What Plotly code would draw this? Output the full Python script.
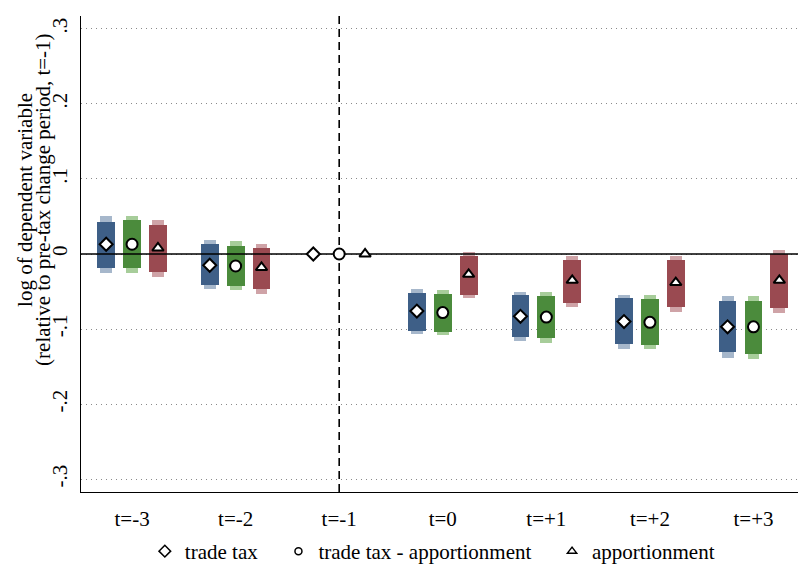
import plotly.graph_objects as go

periods = ["t=-3", "t=-2", "t=-1", "t=0", "t=+1", "t=+2", "t=+3"]
series_names = ["trade tax", "trade tax - apportionment", "apportionment"]
ytitle_lines = ["log of dependent variable", "(relative to pre-tax change period, t=-1)"]

# point estimates
trade_tax = [0.013, -0.015, 0.0, -0.076, -0.083, -0.090, -0.097]
trade_tax_appo = [0.013, -0.016, 0.0, -0.078, -0.084, -0.091, -0.097]
apportionment = [0.008, -0.018, 0.0, -0.027, -0.035, -0.038, -0.035]

# inner (dark) intervals
trade_tax_lo_in = [-0.018, -0.041, None, -0.102, -0.111, -0.120, -0.131]
trade_tax_hi_in = [0.043, 0.013, None, -0.052, -0.055, -0.059, -0.062]
trade_tax_appo_lo_in = [-0.019, -0.043, None, -0.104, -0.112, -0.121, -0.133]
trade_tax_appo_hi_in = [0.045, 0.011, None, -0.053, -0.056, -0.060, -0.062]
apportionment_lo_in = [-0.024, -0.047, None, -0.054, -0.065, -0.070, -0.072]
apportionment_hi_in = [0.039, 0.008, None, -0.003, -0.008, -0.008, 0.000]

# outer (light) intervals
trade_tax_lo_out = [-0.025, -0.047, None, -0.107, -0.116, -0.126, -0.138]
trade_tax_hi_out = [0.050, 0.018, None, -0.046, -0.050, -0.054, -0.056]
trade_tax_appo_lo_out = [-0.025, -0.048, None, -0.108, -0.118, -0.127, -0.140]
trade_tax_appo_hi_out = [0.050, 0.017, None, -0.048, -0.051, -0.055, -0.056]
apportionment_lo_out = [-0.030, -0.053, None, -0.059, -0.070, -0.077, -0.078]
apportionment_hi_out = [0.045, 0.013, None, 0.003, -0.003, -0.003, 0.006]

ytick_vals = [-0.3, -0.2, -0.1, 0, 0.1, 0.2, 0.3]
ytick_text = ["-.3", "-.2", "-.1", "0", ".1", ".2", ".3"]

FONT = "Liberation Serif"
dark_cols = ["#3e5f87", "#4b8b3c", "#9a4a51"]
light_cols = ["#a6b7cb", "#a7cd9a", "#cfa3a7"]
symbols = ["diamond", "circle", "triangle-up"]
msizes = [10, 11, 10]
offsets = [-0.25, 0.0, 0.25]

points = [trade_tax, trade_tax_appo, apportionment]
lo_in = [trade_tax_lo_in, trade_tax_appo_lo_in, apportionment_lo_in]
hi_in = [trade_tax_hi_in, trade_tax_appo_hi_in, apportionment_hi_in]
lo_out = [trade_tax_lo_out, trade_tax_appo_lo_out, apportionment_lo_out]
hi_out = [trade_tax_hi_out, trade_tax_appo_hi_out, apportionment_hi_out]

xs = list(range(1, len(periods) + 1))
ref_idx = periods.index("t=-1")
y_lim = 0.317

fig = go.Figure()

for s in range(3):
    xo, bo, ho, xi, bi, hi = [], [], [], [], [], []
    for i, x in enumerate(xs):
        if lo_out[s][i] is None:
            continue
        xo.append(x + offsets[s]); bo.append(lo_out[s][i]); ho.append(hi_out[s][i] - lo_out[s][i])
        xi.append(x + offsets[s]); bi.append(lo_in[s][i]); hi.append(hi_in[s][i] - lo_in[s][i])
    fig.add_trace(go.Bar(x=xo, y=ho, base=bo, width=0.115, marker_color=light_cols[s],
                         marker_line_width=0, showlegend=False, hoverinfo="skip"))
    fig.add_trace(go.Bar(x=xi, y=hi, base=bi, width=0.172, marker_color=dark_cols[s],
                         marker_line_width=0, showlegend=False, hoverinfo="skip"))

# zero line and reference period line (drawn below markers)
fig.add_trace(go.Scatter(x=[0, len(periods) + 1], y=[0, 0], mode="lines",
                         line=dict(color="black", width=1.6), showlegend=False, hoverinfo="skip"))
fig.add_trace(go.Scatter(x=[xs[ref_idx], xs[ref_idx]], y=[-y_lim, y_lim], mode="lines",
                         line=dict(color="black", width=1.6, dash="8px,5px"),
                         showlegend=False, hoverinfo="skip"))

for s in range(3):
    fig.add_trace(go.Scatter(
        x=[x + offsets[s] for x in xs], y=points[s], mode="markers",
        marker=dict(symbol=symbols[s], size=msizes[s], color="white",
                    line=dict(color="black", width=2)),
        showlegend=False, name=series_names[s]))

# legend-only entries
leg_sizes = [9, 7, 8]
pad = "\u00a0\u00a0\u00a0"
for s in range(3):
    fig.add_trace(go.Scatter(
        x=[None], y=[None], mode="markers",
        name=series_names[s] + (pad if s < 2 else ""),
        marker=dict(symbol=symbols[s], size=leg_sizes[s], color="white",
                    line=dict(color="black", width=1.5)),
        showlegend=True))

# y-axis title as two rotated lines (tight line spacing)
for k, line in enumerate(ytitle_lines):
    fig.add_annotation(text=line, textangle=-90, xref="paper", yref="paper",
                       x=0, y=0.6136, xanchor="center", yanchor="middle",
                       xshift=-56 + 18 * k, showarrow=False,
                       font=dict(size=21, family=FONT, color="black"))

fig.update_layout(
    width=798, height=572,
    margin=dict(l=81, r=0, t=16, b=72),
    paper_bgcolor="white", plot_bgcolor="white",
    barmode="overlay", bargap=0,
    font=dict(family=FONT, size=21, color="black"),
    legend=dict(orientation="h", x=0.49, xanchor="center", y=-0.126, yanchor="middle",
                font=dict(size=21, family=FONT), itemclick=False, itemdoubleclick=False),
)
fig.update_xaxes(
    range=[0.507, 7.43], tickvals=xs, ticktext=periods, showgrid=False, zeroline=False,
    showline=True, linecolor="black", linewidth=1.3, ticks="", ticklabelstandoff=8,
    tickfont=dict(size=21, family=FONT), automargin=False,
)
fig.update_yaxes(
    range=[-y_lim, y_lim], tickvals=ytick_vals, ticktext=ytick_text, tickangle=-90,
    showgrid=True, gridcolor="#8a8a8a", gridwidth=1.2, griddash="1px,4px", zeroline=False,
    showline=True, linecolor="black", linewidth=1.3, ticks="", ticklabelstandoff=4,
    tickfont=dict(size=21, family=FONT), automargin=False,
)

# remove the default page margin so the figure fills the window exactly
fig.write_html("out.html", config={"displayModeBar": False},
               post_script="document.body.style.margin='0';document.body.style.overflow='hidden';")
